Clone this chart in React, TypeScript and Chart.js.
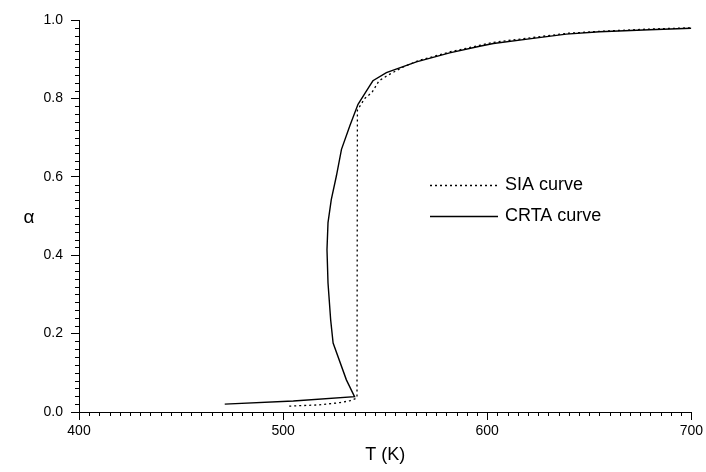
import React, { useEffect, useRef } from "react";
import { Chart, registerables } from "chart.js";

Chart.register(...registerables);

// CRTA curve (solid): temperature T (K) and conversion alpha
const crtaT = [471.4, 505, 535.0, 531.0, 524.5, 523.3, 522.0, 521.5, 522.0, 523.6, 526.1, 528.6, 532.7, 536.7, 542.4, 544.0, 550.6, 565.3, 581.6, 596.3, 603, 622.5, 638.7, 655, 679.4, 700];
const crtaA = [0.020, 0.028, 0.039, 0.082, 0.176, 0.235, 0.329, 0.414, 0.483, 0.542, 0.602, 0.670, 0.730, 0.785, 0.832, 0.845, 0.866, 0.893, 0.916, 0.933, 0.940, 0.953, 0.964, 0.970, 0.975, 0.979];

// SIA curve (dotted)
const siaT = [503, 517, 528, 533, 536.2, 536.3, 536.4, 540, 543.5, 547, 551, 558, 566, 582, 603, 622, 639, 655, 680, 700];
const siaA = [0.015, 0.018, 0.024, 0.029, 0.036, 0.40, 0.77, 0.80, 0.815, 0.845, 0.858, 0.878, 0.896, 0.919, 0.943, 0.955, 0.966, 0.971, 0.977, 0.980];

const seriesNames = ["SIA curve", "CRTA curve"];
const xTicks = [400, 500, 600, 700];
const yTicks = [0, 0.2, 0.4, 0.6, 0.8, 1.0];
const xTitle = "T (K)";
const yTitle = "α";

const FONT = "'Liberation Sans', Arial, sans-serif";

const extrasPlugin = {
  id: "extras",
  afterDraw(chart: any) {
    const { ctx, chartArea, scales } = chart;
    const xs = scales.x;
    const ys = scales.y;
    ctx.save();
    ctx.strokeStyle = "#000";
    ctx.lineWidth = 1;
    // minor x ticks every 5 K
    for (let t = 400; t <= 700; t += 5) {
      if (t % 100 === 0) continue;
      const px = Math.round(xs.getPixelForValue(t)) + 0.5;
      ctx.beginPath();
      ctx.moveTo(px, chartArea.bottom);
      ctx.lineTo(px, chartArea.bottom + 4);
      ctx.stroke();
    }
    // minor y ticks every 0.02
    for (let i = 0; i <= 50; i++) {
      if (i % 10 === 0) continue;
      const py = Math.round(ys.getPixelForValue(i * 0.02)) + 0.5;
      ctx.beginPath();
      ctx.moveTo(chartArea.left - 4, py);
      ctx.lineTo(chartArea.left, py);
      ctx.stroke();
    }
    // y title
    ctx.fillStyle = "#000";
    ctx.font = `19px ${FONT}`;
    ctx.textAlign = "center";
    ctx.textBaseline = "middle";
    ctx.fillText(yTitle, 29, (chartArea.top + chartArea.bottom) / 2 + 2);

    // legend
    const ds = chart.data.datasets;
    const rows = [185, 216];
    ctx.font = `18px ${FONT}`;
    ctx.textAlign = "left";
    rows.forEach((y, i) => {
      const d = ds[i];
      ctx.beginPath();
      ctx.lineWidth = d.borderWidth;
      ctx.setLineDash(d.borderDash || []);
      ctx.moveTo(430, y + 0.5);
      ctx.lineTo(498, y + 0.5);
      ctx.stroke();
      ctx.setLineDash([]);
      ctx.fillText(d.label, 505, y);
    });
    ctx.restore();
  },
};

export default function App() {
  const ref = useRef<HTMLCanvasElement>(null);
  useEffect(() => {
    if (!ref.current) return;
    const sia = siaT.map((t, i) => ({ x: t, y: siaA[i] }));
    const crta = crtaT.map((t, i) => ({ x: t, y: crtaA[i] }));
    const chart = new Chart(ref.current, {
      type: "scatter",
      data: {
        datasets: [
          {
            label: seriesNames[0],
            data: sia,
            showLine: true,
            borderColor: "#000",
            borderWidth: 1.3,
            borderDash: [2, 3],
            pointRadius: 0,
            fill: false,
          },
          {
            label: seriesNames[1],
            data: crta,
            showLine: true,
            borderColor: "#000",
            borderWidth: 1.4,
            pointRadius: 0,
            fill: false,
          },
        ],
      },
      options: {
        responsive: false,
        animation: false,
        layout: { padding: { left: 0, top: 20, right: 14, bottom: 0 } },
        plugins: { legend: { display: false }, tooltip: { enabled: false } },
        scales: {
          x: {
            type: "linear",
            min: 400,
            max: 700,
            afterBuildTicks: (s: any) => {
              s.ticks = xTicks.map((v) => ({ value: v }));
            },
            afterFit: (s: any) => {
              s.height = 60;
            },
            grid: {
              drawOnChartArea: false,
              drawTicks: true,
              tickLength: 8,
              tickColor: "#000",
              tickWidth: 1,
            },
            border: { display: true, color: "#000", width: 1 },
            ticks: {
              color: "#000",
              padding: 3,
              font: { family: FONT, size: 14 },
              maxRotation: 0,
              callback: (v: any) => String(v),
            },
            title: {
              display: true,
              text: xTitle,
              color: "#000",
              font: { family: FONT, size: 18 },
              padding: { top: 0, bottom: 6 },
            },
          },
          y: {
            type: "linear",
            min: 0,
            max: 1,
            afterBuildTicks: (s: any) => {
              s.ticks = yTicks.map((v) => ({ value: v }));
            },
            afterFit: (s: any) => {
              s.width = 79;
            },
            grid: {
              drawOnChartArea: false,
              drawTicks: true,
              tickLength: 8,
              tickColor: "#000",
              tickWidth: 1,
            },
            border: { display: true, color: "#000", width: 1 },
            ticks: {
              color: "#000",
              padding: 8,
              font: { family: FONT, size: 14 },
              callback: (v: any) => Number(v).toFixed(1),
            },
          },
        },
      },
      plugins: [extrasPlugin],
    });
    return () => chart.destroy();
  }, []);
  return (
    <div style={{ position: "absolute", left: 0, top: 0, width: 706, height: 472, background: "#fff" }}>
      <canvas ref={ref} width={706} height={472} style={{ display: "block" }} />
    </div>
  );
}
